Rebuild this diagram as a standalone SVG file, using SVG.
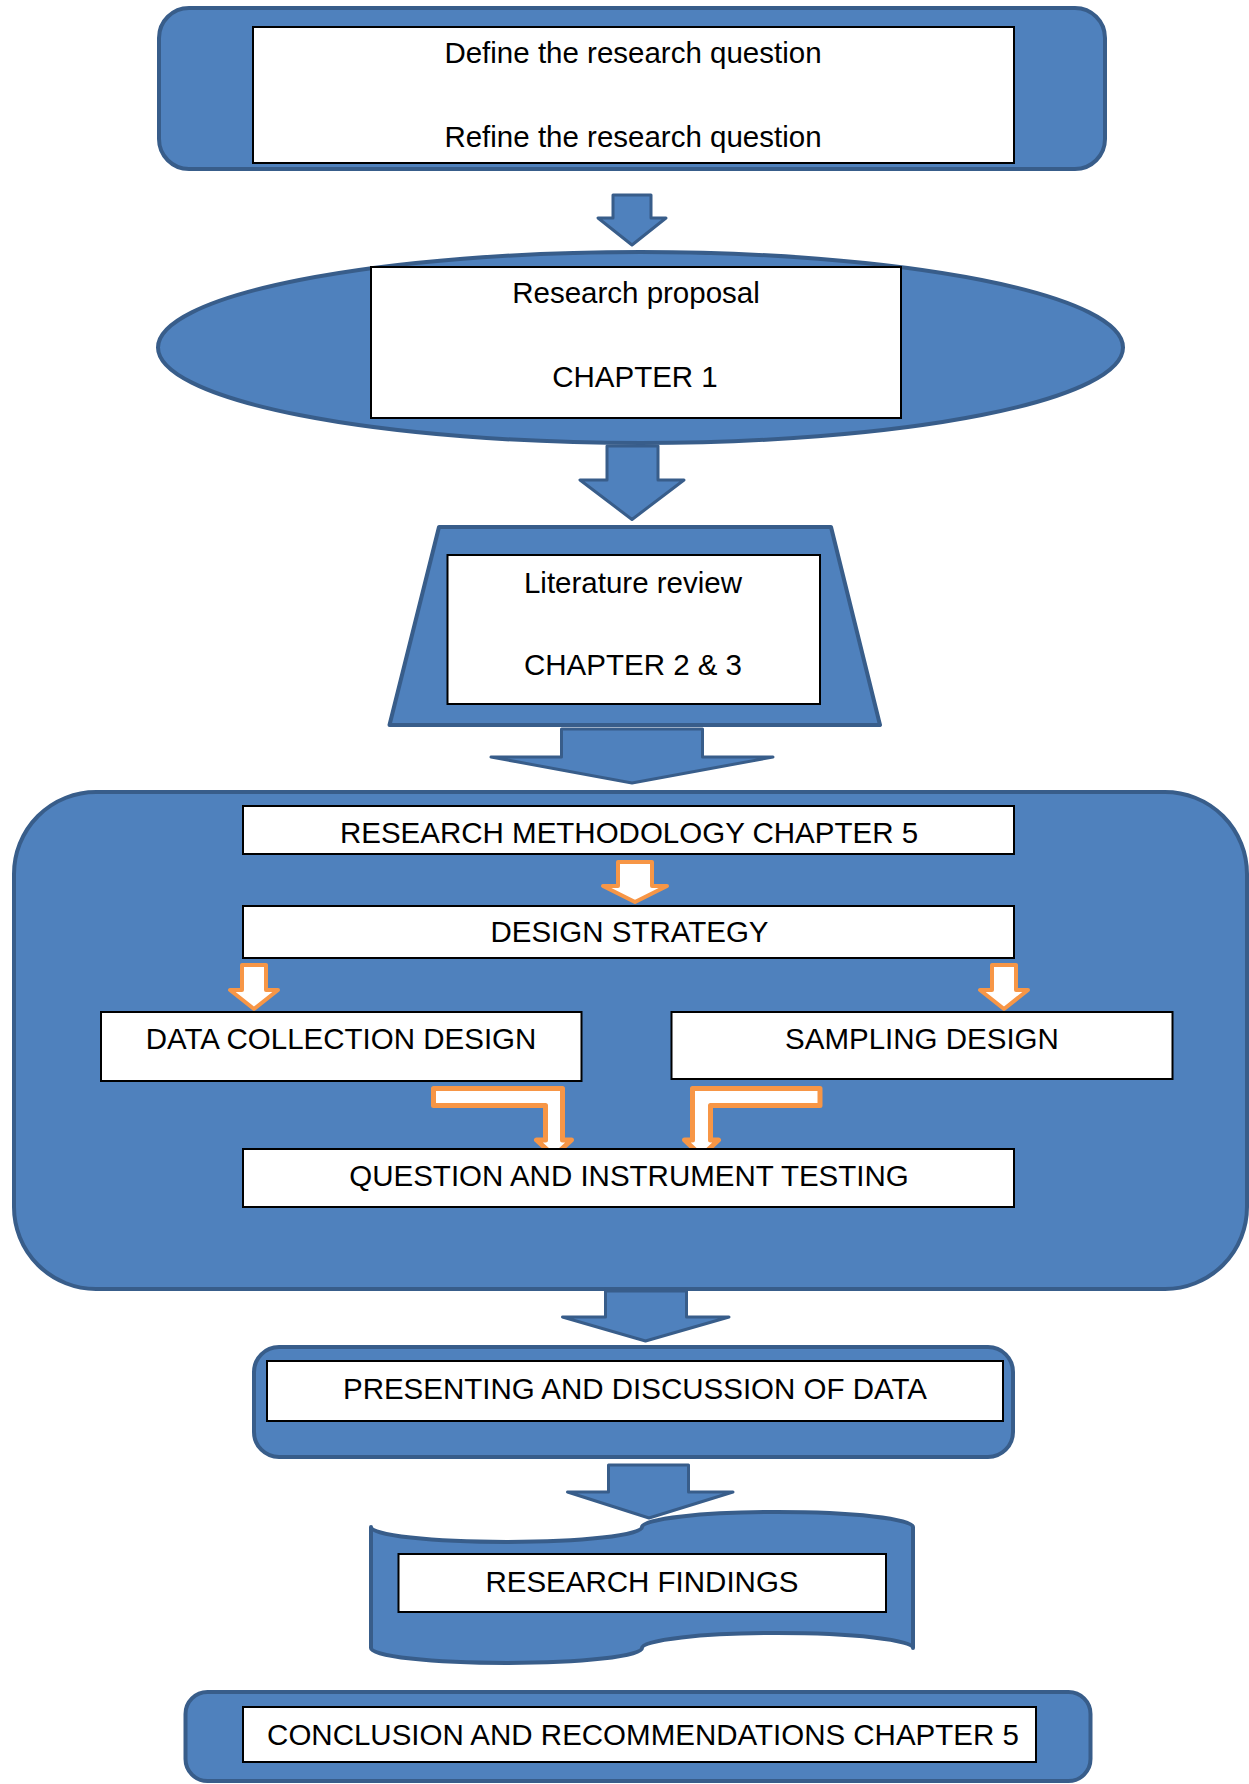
<svg xmlns="http://www.w3.org/2000/svg" width="1249" height="1784" viewBox="0 0 1249 1784">
<style>
.blue{fill:#4F81BD;stroke:#385D8A;stroke-width:4;stroke-linejoin:round}
.arr{fill:#4F81BD;stroke:#385D8A;stroke-width:3;stroke-linejoin:round}
.oarr{fill:#FFFFFF;stroke:#F79646;stroke-width:4;stroke-linejoin:round}
.obent{fill:#FFFFFF;stroke:#F79646;stroke-width:5;stroke-linejoin:round}
.box{fill:#FFFFFF;stroke:#000000;stroke-width:2}
.t{font-family:"Liberation Sans",Arial,sans-serif;font-size:29.5px;fill:#000000;text-anchor:middle}
</style>
<rect width="1249" height="1784" fill="#FFFFFF"/>
<g id="define-shape"><rect class="blue" x="159" y="8" width="946" height="161" rx="30" ry="30"/></g>
<g id="proposal-shape"><ellipse class="blue" cx="640.5" cy="347.5" rx="482.5" ry="95.5"/></g>
<g id="literature-shape"><path class="blue" d="M439 527 L831 527 L880 725 L389.5 725 Z"/></g>
<g id="methodology-shape"><rect class="blue" x="14" y="792" width="1233" height="497" rx="82" ry="82"/></g>
<g id="presenting-shape"><rect class="blue" x="254" y="1347" width="759" height="110" rx="25" ry="25"/></g>
<g id="findings-shape"><path class="blue" d="M371 1527 A135.5 15 0 0 0 642 1527 A135.5 15 0 0 1 913 1527 L913 1648 A135.5 15 0 0 0 642 1648 A135.5 15 0 0 1 371 1648 Z"/></g>
<g id="conclusion-shape"><rect class="blue" x="185.5" y="1692" width="905" height="89" rx="22" ry="22"/></g>
<g id="connectors">
<path class="arr" d="M613 195 L651 195 L651 218 L666 218 L632 245 L598 218 L613 218 Z"/>
<path class="arr" d="M607 446 L658 446 L658 480 L684 480 L632 519.5 L580 480 L607 480 Z"/>
<path class="arr" d="M561.5 729 L702.5 729 L702.5 757 L773 757 L632 783 L491 757 L561.5 757 Z"/>
<path class="arr" d="M605.5 1291 L686.5 1291 L686.5 1317 L729 1317 L645.5 1341 L562.5 1317 L605.5 1317 Z"/>
<path class="arr" d="M608.5 1465 L688.5 1465 L688.5 1492 L733 1492 L649 1518 L567.5 1492 L608.5 1492 Z"/>
<path class="oarr" d="M618 862 L652 862 L652 886 L667 886 L635 902 L603 886 L618 886 Z"/>
<path class="oarr" d="M242 965 L266 965 L266 990 L278 990 L254 1009 L230 990 L242 990 Z"/>
<path class="oarr" d="M992 965 L1016 965 L1016 990 L1028 990 L1004 1009 L980 990 L992 990 Z"/>
<path class="obent" d="M433.5 1088.5 L562.5 1088.5 L562.5 1140 L571.5 1140 L554 1156 L536.5 1140 L545.5 1140 L545.5 1105.5 L433.5 1105.5 Z"/>
<path class="obent" d="M820 1088.5 L692.5 1088.5 L692.5 1140 L684.5 1140 L701.5 1156 L718.5 1140 L710.5 1140 L710.5 1105.5 L820 1105.5 Z"/>
</g>
<g id="define"><rect class="box" x="253" y="27" width="761" height="136"/><text class="t" x="633" y="63">Define the research question</text><text class="t" x="633" y="147">Refine the research question</text></g>
<g id="proposal"><rect class="box" x="371" y="267" width="530" height="151"/><text class="t" x="636" y="303">Research proposal</text><text class="t" x="635" y="387">CHAPTER 1</text></g>
<g id="literature"><rect class="box" x="447.5" y="555" width="372.5" height="149"/><text class="t" x="633" y="593">Literature review</text><text class="t" x="633" y="675">CHAPTER 2 &amp; 3</text></g>
<g id="methodology"><rect class="box" x="243" y="806" width="771" height="48"/><text class="t" x="629" y="843">RESEARCH METHODOLOGY CHAPTER 5</text></g>
<g id="strategy"><rect class="box" x="243" y="906" width="771" height="52"/><text class="t" x="629.5" y="942">DESIGN STRATEGY</text></g>
<g id="data-collection"><rect class="box" x="101" y="1012" width="480.5" height="69"/><text class="t" x="341" y="1049">DATA COLLECTION DESIGN</text></g>
<g id="sampling"><rect class="box" x="671.5" y="1012" width="501" height="67"/><text class="t" x="922" y="1049">SAMPLING DESIGN</text></g>
<g id="testing"><rect class="box" x="243" y="1149" width="771" height="58"/><text class="t" x="629" y="1186">QUESTION AND INSTRUMENT TESTING</text></g>
<g id="presenting"><rect class="box" x="267" y="1361" width="736" height="60"/><text class="t" x="635" y="1399">PRESENTING AND DISCUSSION OF DATA</text></g>
<g id="findings"><rect class="box" x="398.5" y="1554" width="487.5" height="58"/><text class="t" x="642" y="1592">RESEARCH FINDINGS</text></g>
<g id="conclusion"><rect class="box" x="243" y="1707" width="793" height="55"/><text class="t" x="643" y="1745">CONCLUSION AND RECOMMENDATIONS CHAPTER 5</text></g>
</svg>
